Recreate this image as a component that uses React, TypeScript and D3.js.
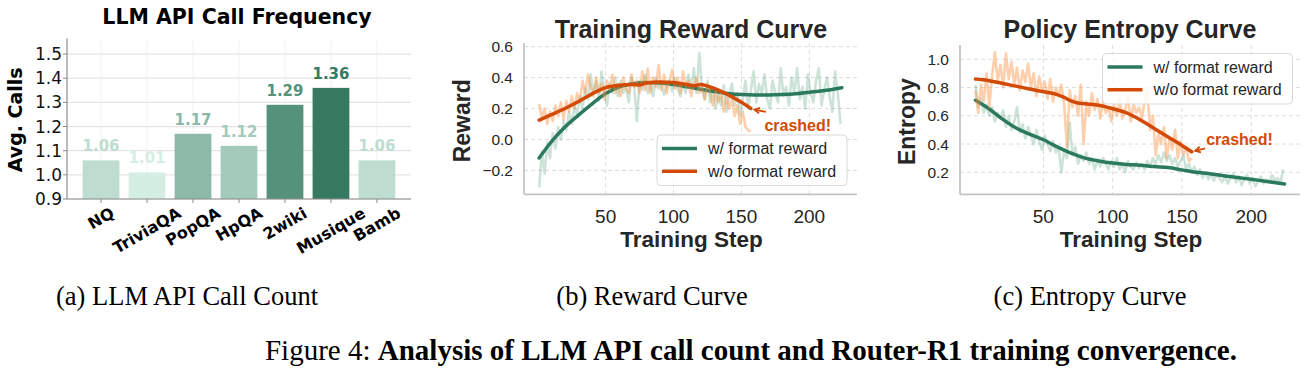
import React from 'react';
import * as d3 from 'd3';

// (a) LLM API call frequency
const datasets = ['NQ', 'TriviaQA', 'PopQA', 'HpQA', '2wiki', 'Musique', 'Bamb'];
const avgCalls = [1.06, 1.01, 1.17, 1.12, 1.29, 1.36, 1.06];
const callTicks = [0.9, 1.0, 1.1, 1.2, 1.3, 1.4, 1.5];

// (b)/(c) raw logged values, one every 2 steps starting at step 1
const rawFirstStep = 1;
const rawStepGap = 2;

const rewardRawFormat = [
  -0.31, -0.08, -0.22, -0.02, -0.12, 0.04, -0.06, 0.08, 0.0, 0.12,
  0.06, 0.18, 0.1, 0.22, 0.15, 0.28, 0.2, 0.33, 0.26, 0.42,
  0.3, 0.38, 0.25, 0.44, 0.32, 0.22, 0.36, 0.3, 0.4, 0.28,
  0.38, 0.3, 0.34, 0.24, 0.4, 0.35, 0.12, 0.38, 0.32, 0.42,
  0.3, 0.36, 0.28, 0.4, 0.33, 0.37, 0.29, 0.35, 0.38, 0.31,
  0.4, 0.33, 0.28, 0.36, 0.3, 0.42, 0.34, 0.46, 0.3, 0.56,
  0.32, 0.26, 0.38, 0.24, 0.33, 0.2, 0.3, 0.22, 0.35, 0.18,
  0.28, 0.36, 0.22, 0.3, 0.16, 0.26, 0.38, 0.2, 0.32, 0.44,
  0.24, 0.36, 0.3, 0.42, 0.26, 0.2, 0.38, 0.3, 0.24, 0.46,
  0.28, 0.34, 0.22, 0.4, 0.3, 0.46, 0.26, 0.34, 0.2, 0.42,
  0.3, 0.24, 0.38, 0.46, 0.22, 0.32, 0.4, 0.28, 0.18, 0.44,
  0.3, 0.1,
];
const rewardRawNoFormat = [
  0.23, 0.14, 0.2, 0.1, 0.18, 0.12, 0.22, 0.15, 0.24, 0.13,
  0.25, 0.18, 0.28, 0.2, 0.3, 0.24, 0.38, 0.3, 0.42, 0.34,
  0.28, 0.4, 0.3, 0.36, 0.26, 0.38, 0.32, 0.42, 0.3, 0.36,
  0.28, 0.4, 0.33, 0.3, 0.42, 0.34, 0.38, 0.3, 0.44, 0.32,
  0.46, 0.3, 0.4, 0.34, 0.48, 0.32, 0.42, 0.3, 0.38, 0.45,
  0.33, 0.4, 0.3, 0.44, 0.34, 0.38, 0.28, 0.36, 0.4, 0.3,
  0.34, 0.26, 0.36, 0.3, 0.22, 0.32, 0.24, 0.3, 0.18, 0.28,
  0.2, 0.26, 0.15, 0.22, 0.1, 0.18, 0.08, 0.06, 0.05,
];
const entropyRawFormat = [
  0.82, 0.66, 0.72, 0.62, 0.68, 0.6, 0.66, 0.56, 0.62, 0.58,
  0.64, 0.52, 0.6, 0.5, 0.56, 0.66, 0.48, 0.54, 0.44, 0.52,
  0.46, 0.4, 0.5, 0.42, 0.36, 0.46, 0.4, 0.35, 0.42, 0.34,
  0.38, 0.2, 0.36, 0.3, 0.55, 0.32, 0.38, 0.26, 0.32, 0.28,
  0.34, 0.26, 0.3, 0.22, 0.28, 0.24, 0.3, 0.26, 0.22, 0.28,
  0.24, 0.3, 0.22, 0.26, 0.2, 0.28, 0.24, 0.22, 0.27, 0.23,
  0.26, 0.22, 0.28, 0.24, 0.3, 0.26, 0.32, 0.27, 0.34, 0.28,
  0.32, 0.26, 0.3, 0.24, 0.28, 0.32, 0.22, 0.26, 0.2, 0.24,
  0.18, 0.22, 0.16, 0.2, 0.15, 0.19, 0.14, 0.18, 0.16, 0.13,
  0.17, 0.12, 0.16, 0.19, 0.13, 0.17, 0.11, 0.15, 0.18, 0.12,
  0.16, 0.1, 0.14, 0.17, 0.12, 0.15, 0.13, 0.18, 0.14, 0.16,
  0.12, 0.22,
];
const entropyRawNoFormat = [
  0.78, 0.62, 0.82, 0.7, 0.9, 0.66, 0.88, 1.05, 0.84, 0.96,
  0.8, 1.04, 0.86, 0.98, 0.82, 0.94, 0.78, 0.92, 0.84, 0.97,
  0.8, 0.9, 0.74, 0.88, 0.78, 0.84, 0.72, 0.86, 0.7, 0.8,
  0.74, 0.82, 0.68, 0.38, 0.78, 0.66, 0.74, 0.6, 0.82, 0.4,
  0.7, 0.6, 0.76, 0.64, 0.72, 0.58, 0.7, 0.62, 0.66, 0.56,
  0.68, 0.6, 0.72, 0.58, 0.64, 0.74, 0.56, 0.68, 0.62, 0.66,
  0.58, 0.7, 0.78, 0.5, 0.6, 0.32, 0.48, 0.4, 0.52, 0.3,
  0.44, 0.36, 0.5, 0.3, 0.42, 0.32, 0.38, 0.28, 0.3,
];

// smoothed curves
const smoothStepsFormat = [1, 10, 20, 30, 40, 50, 60, 70, 80, 90, 100, 110, 120, 130, 140, 150, 160, 170, 180, 190, 200, 210, 224];
const rewardSmoothFormat = [-0.12, -0.015, 0.08, 0.157, 0.23, 0.297, 0.34, 0.36, 0.368, 0.365, 0.355, 0.34, 0.325, 0.31, 0.297, 0.29, 0.288, 0.288, 0.29, 0.295, 0.305, 0.315, 0.335];
const entropySmoothFormat = [0.71, 0.655, 0.58, 0.515, 0.47, 0.43, 0.38, 0.335, 0.3, 0.28, 0.265, 0.255, 0.25, 0.24, 0.233, 0.217, 0.2, 0.19, 0.175, 0.163, 0.15, 0.137, 0.117];
const rewardSmoothStepsNoFormat = [1, 10, 20, 30, 40, 50, 60, 70, 75, 80, 90, 100, 110, 115, 120, 125, 130, 140, 150, 157];
const rewardSmoothNoFormat = [0.125, 0.16, 0.2, 0.245, 0.295, 0.335, 0.35, 0.355, 0.352, 0.365, 0.372, 0.368, 0.355, 0.348, 0.355, 0.345, 0.33, 0.29, 0.24, 0.2];
const entropySmoothStepsNoFormat = [1, 10, 20, 30, 40, 50, 60, 65, 70, 75, 80, 90, 100, 110, 120, 130, 140, 150, 157];
const entropySmoothNoFormat = [0.86, 0.85, 0.83, 0.81, 0.79, 0.77, 0.75, 0.73, 0.705, 0.69, 0.685, 0.675, 0.65, 0.62, 0.57, 0.51, 0.45, 0.39, 0.345];

const stepTicks = [50, 100, 150, 200];
const rewardTicks = [-0.2, 0.0, 0.2, 0.4, 0.6];
const entropyTicks = [0.2, 0.4, 0.6, 0.8, 1.0];
const seriesLabels = ['w/ format reward', 'w/o format reward'];

const GREEN = '#2b7a5d';
const ORANGE = '#d24a05';
const SANS = 'Liberation Sans, Arial, sans-serif';
const DEJAVU = 'DejaVu Sans, sans-serif';
const INK = '#262626';

let ctx: CanvasRenderingContext2D | null = null;
const measure = (text: string, font: string) => {
  if (!ctx) ctx = document.createElement('canvas').getContext('2d');
  ctx!.font = font;
  return ctx!.measureText(text).width;
};

const CallPanel = () => {
  const x = d3.scaleLinear().domain([-0.74, 6.74]).range([67, 411]);
  const y = d3.scaleLinear().domain([0.9, 1.564]).range([199, 38.6]);
  const color = d3.scaleLinear<string>()
    .domain([d3.min(avgCalls)!, d3.max(avgCalls)!])
    .range(['#d5eee3', '#357a61']);
  const bw = (x(1) - x(0)) * 0.8;
  const [y0, y1] = y.range();
  const [x0, x1] = x.range();
  const lblFont = 16;
  const sin = Math.sin(Math.PI / 6), cos = Math.cos(Math.PI / 6);

  return (
    <g fontFamily={DEJAVU}>
      {datasets.map((d, i) => (
        <line key={'vg' + i} x1={x(i)} x2={x(i)} y1={y1} y2={y0} stroke="#f3f3f3" />
      ))}
      {callTicks.map(t => (
        <line key={'hg' + t} x1={x0} x2={x1} y1={y(t)} y2={y(t)} stroke="#e4e4e4" strokeWidth={1.2} />
      ))}
      {avgCalls.map((v, i) => (
        <g key={'bar' + i}>
          <rect x={x(i) - bw / 2} y={y(v)} width={bw} height={y0 - y(v)} fill={color(v)} />
          <text x={x(i)} y={y(v) - 9} textAnchor="middle" fontWeight="bold" fontSize={15} fill={color(v)}>
            {v.toFixed(2)}
          </text>
        </g>
      ))}
      <line x1={x0} x2={x0} y1={y1} y2={y0} stroke="#8c8c8c" strokeWidth={1.2} />
      <line x1={x0} x2={x1} y1={y0} y2={y0} stroke="#8c8c8c" strokeWidth={1.2} />
      {callTicks.map(t => (
        <g key={'yt' + t}>
          <line x1={x0 - 4} x2={x0} y1={y(t)} y2={y(t)} stroke="#8c8c8c" />
          <text x={x0 - 5} y={y(t)} textAnchor="end" dominantBaseline="central" fontSize={17} fill="#111">
            {t.toFixed(1)}
          </text>
        </g>
      ))}
      {datasets.map((d, i) => {
        const w = measure(d, `bold ${lblFont}px DejaVu Sans`);
        const h = lblFont * 1.1;
        const bh = w * sin + h * cos;
        const cy = y0 + 5 + bh / 2;
        return (
          <g key={'xt' + i}>
            <line x1={x(i)} x2={x(i)} y1={y0} y2={y0 + 4} stroke="#8c8c8c" />
            <text x={x(i)} y={cy} transform={`rotate(-30 ${x(i)} ${cy})`} textAnchor="middle"
              dominantBaseline="central" fontWeight="bold" fontSize={lblFont} fill="#000">
              {d}
            </text>
          </g>
        );
      })}
      <text x={(x0 + x1) / 2 - 2} y={24} textAnchor="middle" fontWeight="bold" fontSize={20.5} fill="#000">
        LLM API Call Frequency
      </text>
      <text transform={`translate(15,${(y0 + y1) / 2 + 1}) rotate(-90)`} textAnchor="middle"
        dominantBaseline="central" fontWeight="bold" fontSize={19} fill="#000">
        Avg. Calls
      </text>
    </g>
  );
};

type PanelCfg = {
  title: string; titleX: number; ylabel: string; ylabelX: number;
  xRange: [number, number]; yRange: [number, number]; yDomain: [number, number];
  yTicks: number[];
  greenRaw: number[]; orangeRaw: number[];
  greenSteps: number[]; greenSmooth: number[];
  orangeSteps: number[]; orangeSmooth: number[];
  legend: { x: number; y: number };
  crash: { tip: [number, number]; tail: [number, number]; text: [number, number] };
};

const CurvePanel = ({ cfg }: { cfg: PanelCfg }) => {
  const x = d3.scaleLinear().domain([-10.15, 235.15]).range(cfg.xRange);
  const y = d3.scaleLinear().domain(cfg.yDomain).range(cfg.yRange);
  const [x0, x1] = cfg.xRange;
  const [yb, yt] = cfg.yRange;
  const raw = d3.line<number>().x((_, i) => x(rawFirstStep + rawStepGap * i)).y(d => y(d));
  const smooth = d3.line<[number, number]>().x(d => x(d[0])).y(d => y(d[1])).curve(d3.curveMonotoneX);
  const zip = (s: number[], v: number[]) => s.map((st, i) => [st, v[i]] as [number, number]);
  const og = zip(cfg.orangeSteps, cfg.orangeSmooth);
  const last = og[og.length - 1];
  const ex = x(last[0]), ey = y(last[1]);
  const tip: [number, number] = [ex + cfg.crash.tip[0], ey + cfg.crash.tip[1]];
  const tail: [number, number] = [ex + cfg.crash.tail[0], ey + cfg.crash.tail[1]];
  const ang = Math.atan2(tip[1] - tail[1], tip[0] - tail[0]);
  const head = (s: number) => [tip[0] - 6 * Math.cos(ang + s), tip[1] - 6 * Math.sin(ang + s)];
  const h1 = head(0.5), h2 = head(-0.5);
  const lg = cfg.legend;
  const fmt = d3.format('.1f');

  return (
    <g fontFamily={SANS}>
      {cfg.yTicks.map(t => (
        <line key={'hg' + t} x1={x0} x2={x1} y1={y(t)} y2={y(t)} stroke="#dcdcdc" strokeDasharray="4,3" />
      ))}
      {stepTicks.map(t => (
        <line key={'vg' + t} x1={x(t)} x2={x(t)} y1={yt} y2={yb} stroke="#dcdcdc" strokeDasharray="4,3" />
      ))}
      <path d={raw(cfg.greenRaw)!} fill="none" stroke="#2e8b57" strokeOpacity={0.24} strokeWidth={2.6} strokeLinejoin="round" />
      <path d={smooth(zip(cfg.greenSteps, cfg.greenSmooth))!} fill="none" stroke={GREEN} strokeWidth={3.5} strokeLinecap="round" />
      <path d={raw(cfg.orangeRaw)!} fill="none" stroke="#fd8d3c" strokeOpacity={0.42} strokeWidth={2.6} strokeLinejoin="round" />
      <path d={smooth(og)!} fill="none" stroke={ORANGE} strokeWidth={3.5} strokeLinecap="round" />
      <line x1={x0} x2={x0} y1={yt} y2={yb} stroke="#c4c4c4" strokeWidth={1.8} />
      <line x1={x0} x2={x1} y1={yb} y2={yb} stroke="#c4c4c4" strokeWidth={1.8} />
      {cfg.yTicks.map(t => (
        <text key={'yt' + t} x={x0 - 11} y={y(t)} textAnchor="end" dominantBaseline="central" fontSize={15.5} fill={INK}>
          {fmt(t)}
        </text>
      ))}
      {stepTicks.map(t => (
        <text key={'xt' + t} x={x(t)} y={222.5} textAnchor="middle" fontSize={19} fill={INK}>{t}</text>
      ))}
      <text x={cfg.titleX} y={38} textAnchor="middle" fontWeight="bold" fontSize={25} fill={INK}>{cfg.title}</text>
      <text x={(x0 + x1) / 2 + 1} y={247} textAnchor="middle" fontWeight="bold" fontSize={22.5} fill={INK}>Training Step</text>
      <text transform={`translate(${cfg.ylabelX},${(yt + yb) / 2 + 2}) rotate(-90)`} textAnchor="middle"
        dominantBaseline="central" fontWeight="bold" fontSize={23} fill={INK}>{cfg.ylabel}</text>
      <rect x={lg.x} y={lg.y} width={190} height={50.5} rx={4} fill="#fff" fillOpacity={0.8} stroke="#d9d9d9" />
      {seriesLabels.map((s, i) => (
        <g key={s}>
          <line x1={lg.x + 5} x2={lg.x + 40} y1={lg.y + 13.5 + 22.7 * i} y2={lg.y + 13.5 + 22.7 * i}
            stroke={i === 0 ? GREEN : ORANGE} strokeWidth={3.5} />
          <text x={lg.x + 51} y={lg.y + 13.5 + 22.7 * i} dominantBaseline="central" fontSize={16} fill={INK}>{s}</text>
        </g>
      ))}
      <line x1={tail[0]} y1={tail[1]} x2={tip[0]} y2={tip[1]} stroke={ORANGE} strokeWidth={1.8} />
      <path d={`M${h1[0]},${h1[1]}L${tip[0]},${tip[1]}L${h2[0]},${h2[1]}`} fill="none" stroke={ORANGE} strokeWidth={1.8} />
      <text x={ex + cfg.crash.text[0]} y={ey + cfg.crash.text[1]} fontWeight="bold" fontSize={16} fill={ORANGE}>crashed!</text>
    </g>
  );
};

const rewardCfg: PanelCfg = {
  title: 'Training Reward Curve', titleX: 691, ylabel: 'Reward', ylabelX: 462,
  xRange: [524, 857], yRange: [194.3, 43.3], yDomain: [-0.355, 0.622], yTicks: rewardTicks,
  greenRaw: rewardRawFormat, orangeRaw: rewardRawNoFormat,
  greenSteps: smoothStepsFormat, greenSmooth: rewardSmoothFormat,
  orangeSteps: rewardSmoothStepsNoFormat, orangeSmooth: rewardSmoothNoFormat,
  legend: { x: 657, y: 135 },
  crash: { tip: [3.5, 1], tail: [15, 3.4], text: [13.5, 22] },
};

const entropyCfg: PanelCfg = {
  title: 'Policy Entropy Curve', titleX: 1130, ylabel: 'Entropy', ylabelX: 907,
  xRange: [960, 1300], yRange: [194.3, 45], yDomain: [0.044, 1.101], yTicks: entropyTicks,
  greenRaw: entropyRawFormat, orangeRaw: entropyRawNoFormat,
  greenSteps: smoothStepsFormat, greenSmooth: entropySmoothFormat,
  orangeSteps: entropySmoothStepsNoFormat, orangeSmooth: entropySmoothNoFormat,
  legend: { x: 1102.5, y: 53.5 },
  crash: { tip: [3.5, -1], tail: [13.5, -3.4], text: [14.5, -6.5] },
};

const captions = [
  { label: '(a) LLM API Call Count', x: 187 },
  { label: '(b) Reward Curve', x: 652 },
  { label: '(c) Entropy Curve', x: 1090 },
];

export default function App() {
  return (
    <svg width={1307} height={375} style={{ position: 'absolute', left: 0, top: 0, background: '#fff' }}>
      <CallPanel />
      <CurvePanel cfg={rewardCfg} />
      <CurvePanel cfg={entropyCfg} />
      <g fontFamily="Liberation Serif, Times New Roman, serif" fill="#000">
        {captions.map(c => (
          <text key={c.label} x={c.x} y={305} textAnchor="middle" fontSize={26.5}>{c.label}</text>
        ))}
        <text x={751} y={360} textAnchor="middle" fontSize={29}>
          Figure 4: <tspan fontWeight="bold">Analysis of LLM API call count and Router-R1 training convergence.</tspan>
        </text>
      </g>
    </svg>
  );
}
